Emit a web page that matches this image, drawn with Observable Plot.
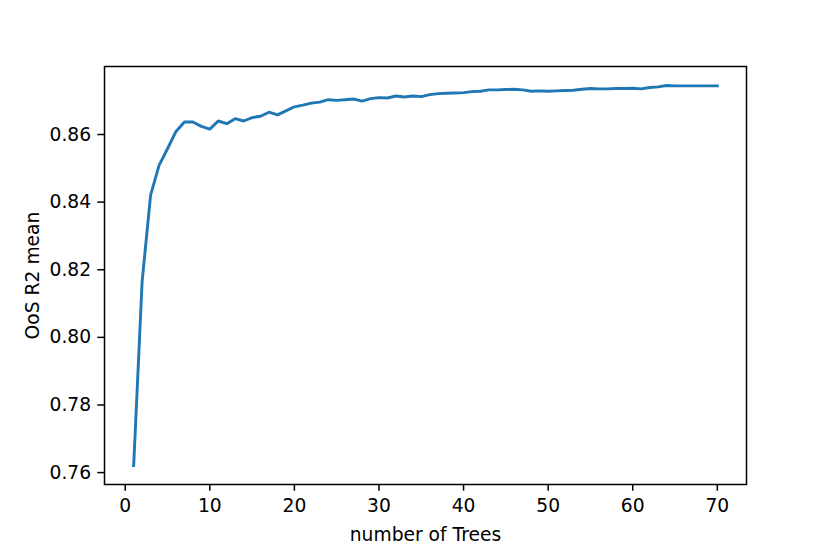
<!DOCTYPE html>
<html>
<head>
<meta charset="utf-8">
<script src="https://cdn.jsdelivr.net/npm/d3@7"></script>
<script src="https://cdn.jsdelivr.net/npm/@observablehq/plot@0.6"></script>
<style>
  html, body { margin: 0; padding: 0; background: #fff; }
  svg { display: block; }
</style>
</head>
<body>
<div id="chart"></div>
<script>
const trees = d3.range(1, 71);
const r2mean = [
  0.7621, 0.8166, 0.8421, 0.8509, 0.8558, 0.8609, 0.8637, 0.8637, 0.8624, 0.8616,
  0.8640, 0.8632, 0.8647, 0.8640, 0.8650, 0.8654, 0.8666, 0.8658, 0.8670, 0.8682,
  0.8687, 0.8693, 0.8696, 0.8703, 0.8701, 0.8703, 0.8705, 0.8699, 0.8706, 0.8709,
  0.8708, 0.8714, 0.8711, 0.8714, 0.8712, 0.8718, 0.8721, 0.8722, 0.8723, 0.8724,
  0.8727, 0.8728, 0.8732, 0.8732, 0.8733, 0.8734, 0.8732, 0.8728, 0.8729, 0.8728,
  0.8729, 0.8730, 0.8731, 0.8734, 0.8736, 0.8735, 0.8735, 0.8736, 0.8736, 0.8737,
  0.8735, 0.8739, 0.8741, 0.8745, 0.8744, 0.8744, 0.8744, 0.8744, 0.8744, 0.8744
];
const xTicks = [0, 10, 20, 30, 40, 50, 60, 70];
const yTicks = [0.76, 0.78, 0.80, 0.82, 0.84, 0.86];
const xLabel = "number of Trees";
const yLabel = "OoS R2 mean";

const data = trees.map((t, i) => ({trees: t, r2: r2mean[i]}));

const xMin = d3.min(trees), xMax = d3.max(trees);
const yMin = d3.min(r2mean), yMax = d3.max(r2mean);
const xPad = (xMax - xMin) * 0.05, yPad = (yMax - yMin) * 0.05;

const font = "DejaVu Sans, sans-serif";
const fs = 18.7;

const chart = Plot.plot({
  width: 830,
  height: 554,
  marginLeft: 104,
  marginRight: 84,
  marginTop: 66,
  marginBottom: 70,
  style: {fontFamily: font, fontSize: fs + "px", background: "#fff", color: "#000"},
  x: {domain: [xMin - xPad, xMax + xPad]},
  y: {domain: [yMin - yPad, yMax + yPad]},
  marks: [
    Plot.line(data, {x: "trees", y: "r2", stroke: "#1f77b4", strokeWidth: 2.9, strokeLinejoin: "round", strokeLinecap: "square"}),
    Plot.frame({stroke: "#000", strokeWidth: 1.5}),
    Plot.axisX({ticks: xTicks, tickSize: 6.7, tickPadding: 7.5, tickFormat: d3.format("d"), fontSize: fs, strokeWidth: 1.5, label: null}),
    Plot.axisY({ticks: yTicks, tickSize: 6.7, tickPadding: 6.7, tickFormat: d3.format(".2f"), fontSize: fs, strokeWidth: 1.5, label: null}),
    Plot.text([xLabel], {frameAnchor: "bottom", dy: 56, lineAnchor: "bottom", textAnchor: "middle", fontSize: fs, fill: "#000"}),
    Plot.text([yLabel], {frameAnchor: "left", dx: -66, rotate: -90, lineAnchor: "bottom", textAnchor: "middle", fontSize: fs, fill: "#000"})
  ]
});
document.getElementById("chart").appendChild(chart);
</script>
</body>
</html>
